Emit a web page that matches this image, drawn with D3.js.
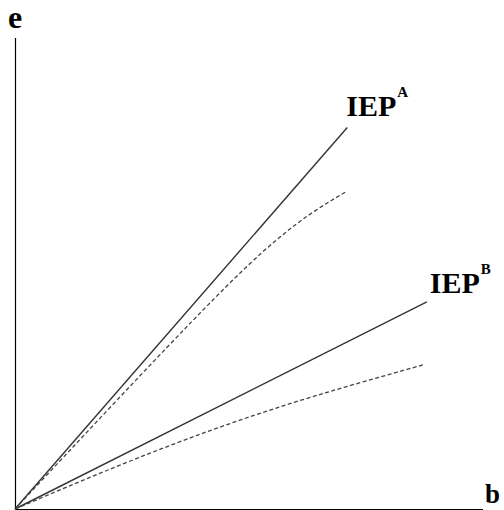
<!DOCTYPE html>
<html>
<head>
<meta charset="utf-8">
<script src="https://cdn.jsdelivr.net/npm/d3@7"></script>
<style>
  body { margin: 0; background: #fff; }
  svg text { font-family: "Liberation Serif", "Times New Roman", serif; font-weight: bold; fill: #000; }
</style>
</head>
<body>
<div id="chart"></div>
<script>
// data, in chart units (b along x, e along y)
var iepA = [[0, 0], [71, 81]];
var iepB = [[0, 0], [88, 44]];
var dashA = [[0, 0], [21.4, 22.7], [42.7, 44.8], [55.6, 56.9], [64.1, 63.3], [71, 67.5]];
var dashB = [[0, 0], [21.4, 8.9], [42.7, 17], [64.1, 24], [87.2, 30.6]];
var lineLabels = ["IEP", "IEP"];
var supLabels = ["A", "B"];
var axisLabels = ["e", "b"];

var width = 504, height = 510;
var x = d3.scaleLinear().domain([0, 100]).range([15, 483]);
var y = d3.scaleLinear().domain([0, 100]).range([509, 38]);

var svg = d3.select("#chart").append("svg")
  .attr("width", width)
  .attr("height", height);

// axes (plain lines, no ticks)
svg.append("line")
  .attr("x1", x(0) + 0.5).attr("x2", x(0) + 0.5)
  .attr("y1", y(0)).attr("y2", y(100))
  .attr("stroke", "#000").attr("stroke-width", 1.2);
svg.append("line")
  .attr("x1", x(0)).attr("x2", x(100))
  .attr("y1", y(0) + 0.5).attr("y2", y(0) + 0.5)
  .attr("stroke", "#000").attr("stroke-width", 1.2);

var line = d3.line()
  .x(function (d) { return x(d[0]); })
  .y(function (d) { return y(d[1]); });
var curve = d3.line()
  .curve(d3.curveNatural)
  .x(function (d) { return x(d[0]); })
  .y(function (d) { return y(d[1]); });

[iepA, iepB].forEach(function (d) {
  svg.append("path")
    .attr("d", line(d))
    .attr("fill", "none")
    .attr("stroke", "#333")
    .attr("stroke-width", 1.4);
});
[dashA, dashB].forEach(function (d) {
  svg.append("path")
    .attr("d", curve(d))
    .attr("fill", "none")
    .attr("stroke", "#444")
    .attr("stroke-width", 1.3)
    .attr("stroke-dasharray", "4,2.5");
});

// line labels, placed off the end of each solid line
var ends = [iepA[iepA.length - 1], iepB[iepB.length - 1]];
var offs = [[-1, -11], [3, -9]];
ends.forEach(function (e, i) {
  var t = svg.append("text")
    .attr("x", x(e[0]) + offs[i][0])
    .attr("y", y(e[1]) + offs[i][1])
    .style("font-size", "30px");
  t.append("tspan").text(lineLabels[i]);
  t.append("tspan")
    .attr("dx", 1)
    .attr("dy", -19)
    .style("font-size", "15px")
    .text(supLabels[i]);
});

// axis letters
svg.append("text")
  .attr("x", x(0) - 7)
  .attr("y", 28)
  .style("font-size", "32px")
  .text(axisLabels[0]);
svg.append("text")
  .attr("x", 485)
  .attr("y", 503)
  .style("font-size", "27px")
  .text(axisLabels[1]);
</script>
</body>
</html>
